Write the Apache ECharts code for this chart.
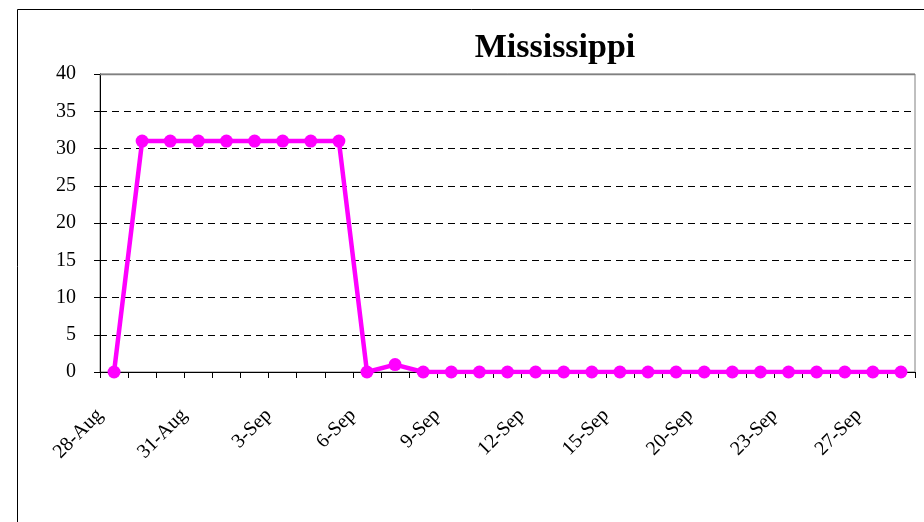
<!DOCTYPE html>
<html>
<head>
<meta charset="utf-8">
<script src="https://cdn.jsdelivr.net/npm/echarts@6/dist/echarts.min.js"></script>
<style>html,body{margin:0;padding:0;background:#fff;}#c{width:924px;height:522px;}</style>
</head>
<body>
<div id="c"></div>
<script>
var categories = ['28-Aug','29-Aug','30-Aug','31-Aug','1-Sep','2-Sep','3-Sep','4-Sep','5-Sep','6-Sep','7-Sep','8-Sep','9-Sep','10-Sep','11-Sep','12-Sep','13-Sep','14-Sep','15-Sep','16-Sep','18-Sep','20-Sep','21-Sep','22-Sep','23-Sep','25-Sep','26-Sep','27-Sep','28-Sep'];
var values = [0,31,31,31,31,31,31,31,31,0,1,0,0,0,0,0,0,0,0,0,0,0,0,0,0,0,0,0,0];
var yTicks = {min:0, max:40, interval:5};
var titleText = 'Mississippi';

var chart = echarts.init(document.getElementById('c'), null, {renderer:'canvas'});
var font = 'Liberation Serif';
var gridLeft = 100, gridRight = 9, gridTop = 74, gridBottom = 150;
chart.setOption({
  animation:false,
  backgroundColor:'#fff',
  title:{text:titleText, left:550, top:26, textAlign:'center',
    textStyle:{fontFamily:font, fontSize:34, fontWeight:'bold', color:'#000'}},
  grid:{left:gridLeft, right:gridRight, top:gridTop, bottom:gridBottom, show:true, borderColor:'#808080', borderWidth:1, backgroundColor:'transparent'},
  xAxis:{type:'category', data:categories, boundaryGap:true,
    axisLine:{lineStyle:{color:'#000', width:1}},
    axisTick:{show:true, interval:0, length:6, lineStyle:{color:'#000'}},
    axisLabel:{interval:2, rotate:45, fontFamily:font, fontSize:20, color:'#000', margin:26, padding:[0,20,0,0]},
    splitLine:{show:false}},
  yAxis:{type:'value', min:yTicks.min, max:yTicks.max, interval:yTicks.interval,
    axisLine:{show:true, lineStyle:{color:'#000', width:1}},
    axisTick:{show:true, length:6, lineStyle:{color:'#000'}},
    axisLabel:{fontFamily:font, fontSize:20, color:'#000', margin:24},
    splitLine:{show:true, lineStyle:{color:'#000', type:[7,5], width:1}}},
  series:[{type:'line', data:values, symbol:'circle', symbolSize:13,
    lineStyle:{color:'#ff00ff', width:4.5}, itemStyle:{color:'#ff00ff'}}]
});
var topY = Math.round(chart.convertToPixel({yAxisIndex:0}, yTicks.max)) + 0.5;
chart.setOption({
  graphic:[
    {type:'rect', shape:{x:17.5, y:9.5, width:1000, height:1000}, style:{fill:null, stroke:'#000', lineWidth:1}, silent:true, z:-1},
    {type:'line', shape:{x1:gridLeft, y1:topY, x2:924-gridRight, y2:topY}, style:{stroke:'#808080', lineWidth:1.5}, silent:true, z:50}
  ]
});
</script>
</body>
</html>
